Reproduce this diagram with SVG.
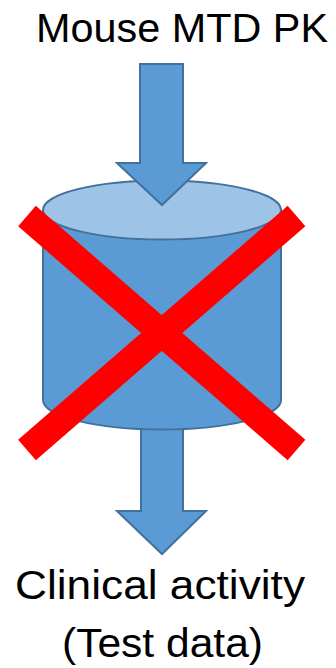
<svg xmlns="http://www.w3.org/2000/svg" width="336" height="668" viewBox="0 0 336 668">
<style>
.lbl{font-family:"Liberation Sans","Open Sans",Arial,sans-serif;font-size:41px;fill:#000;text-anchor:middle}
.blk{fill:#5B9BD5;stroke:#41719C;stroke-width:2;stroke-linejoin:miter}
.top{fill:#9DC3E6;stroke:#41719C;stroke-width:2}
.x{stroke:#FF0000;stroke-width:27;stroke-linecap:butt;fill:none}
</style>
<rect width="336" height="668" fill="#fff"/>
<g id="connectors">
<path id="arrow-out" class="blk" d="M141,400 L183,400 L183,511 L206,511 L162,554 L117,511 L141,511 Z"/>
</g>
<g id="model">
<path class="blk" d="M43,210 L43,400 A119,29.5 0 0 0 281,400 L281,210 Z"/>
<ellipse class="top" cx="162" cy="210" rx="119" ry="29.5"/>
</g>
<g id="connectors-in">
<path id="arrow-in" class="blk" d="M140,64 L183,64 L183,163 L206,163 L162,205 L117,163 L140,163 Z"/>
</g>
<g id="cross">
<line class="x" x1="27" y1="216" x2="296.5" y2="450"/>
<line class="x" x1="296.5" y1="216" x2="27" y2="450"/>
</g>
<g id="input-label">
<text class="lbl" x="182" y="42" textLength="292" lengthAdjust="spacingAndGlyphs">Mouse MTD PK</text>
</g>
<g id="output-label">
<text class="lbl" x="160" y="599" textLength="290" lengthAdjust="spacingAndGlyphs">Clinical activity</text>
<text class="lbl" x="162.5" y="657" textLength="201" lengthAdjust="spacingAndGlyphs">(Test data)</text>
</g>
</svg>
